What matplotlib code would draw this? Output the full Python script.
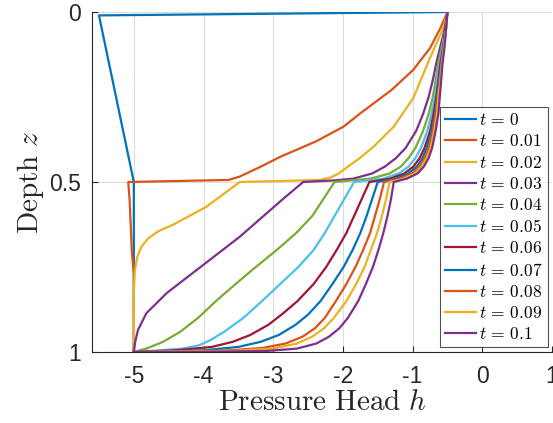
import numpy as np
import matplotlib
matplotlib.use("Agg")
import matplotlib.pyplot as plt

plt.rcParams['mathtext.fontset'] = 'cm'
plt.rcParams['axes.unicode_minus'] = False
plt.rcParams['font.family'] = ['Liberation Sans', 'DejaVu Sans']

# pressure head profiles h(z)
times = [0, 0.01, 0.02, 0.03, 0.04, 0.05, 0.06, 0.07, 0.08, 0.09, 0.1]

z_t00 = [0, 0.01, 0.5, 1.0]
h_t00 = [-0.5, -5.5, -5.0, -5.0]

z_t01 = [0, 0.047, 0.106, 0.17, 0.229, 0.298, 0.337, 0.38, 0.426, 0.455, 0.484, 0.494, 0.5,
         0.553, 0.65, 0.70, 0.77, 1.0]
h_t01 = [-0.5, -0.60, -0.75, -0.99, -1.30, -1.75, -1.99, -2.38, -2.90, -3.18, -3.48, -3.64, -5.08,
         -5.06, -5.04, -5.03, -5.0, -5.0]

z_t02 = [0, 0.047, 0.135, 0.253, 0.337, 0.396, 0.43, 0.455, 0.475, 0.487, 0.494, 0.5,
         0.573, 0.626, 0.645, 0.665, 0.69, 0.72, 0.76, 0.82, 1.0]
h_t02 = [-0.5, -0.56, -0.75, -0.99, -1.27, -1.56, -1.76, -1.93, -2.06, -2.18, -2.33, -3.48,
         -3.96, -4.44, -4.65, -4.79, -4.89, -4.95, -4.985, -5.0, -5.0]

z_up = [0, 0.05, 0.1, 0.15, 0.2, 0.25, 0.3, 0.35, 0.4, 0.43, 0.455, 0.475, 0.49]

z_t03 = z_up + [0.495, 0.5, 0.55, 0.661, 0.759, 0.827, 0.886, 0.935, 0.97, 1.0]
h_t03 = [-0.5, -0.54, -0.60, -0.66, -0.71, -0.77, -0.85, -0.95, -1.10, -1.24, -1.40, -1.58, -1.85,
         -2.10, -2.57, -2.86, -3.48, -4.10, -4.53, -4.82, -4.94, -4.98, -5.0]

z_low = [0.5, 0.55, 0.6, 0.65, 0.7, 0.75, 0.8, 0.85]

z_t04 = z_up + z_low + [0.9, 0.94, 0.97, 0.99, 1.0]
h_t04 = [-0.5, -0.53, -0.58, -0.63, -0.67, -0.71, -0.77, -0.85, -0.96, -1.06, -1.17, -1.33, -1.60,
         -2.12, -2.28, -2.44, -2.67, -2.95, -3.25, -3.54, -3.82, -4.08, -4.33, -4.58, -4.82, -5.0]

z_t05 = z_up + z_low + [0.9, 0.94, 0.965, 0.98, 0.99, 0.996, 1.0]
h_t05 = [-0.5, -0.53, -0.57, -0.61, -0.65, -0.68, -0.73, -0.79, -0.88, -0.96, -1.06, -1.20, -1.42,
         -1.84, -1.98, -2.12, -2.26, -2.42, -2.64, -2.90, -3.16, -3.43, -3.70, -3.90, -4.06, -4.30,
         -4.70, -5.0]

z_t06 = z_up + z_low + [0.89, 0.92, 0.95, 0.97, 0.985, 0.995, 1.0]
h_t06 = [-0.5, -0.53, -0.56, -0.60, -0.63, -0.66, -0.70, -0.75, -0.83, -0.90, -0.99, -1.12, -1.32,
         -1.62, -1.73, -1.84, -1.95, -2.09, -2.24, -2.42, -2.65, -2.88, -3.07, -3.33, -3.58, -3.88,
         -4.40, -5.0]

z_t07 = z_up + z_low + [0.89, 0.92, 0.95, 0.97, 0.985, 0.995, 1.0]
h_t07 = [-0.5, -0.53, -0.56, -0.59, -0.62, -0.65, -0.68, -0.73, -0.80, -0.86, -0.94, -1.06, -1.24,
         -1.50, -1.58, -1.66, -1.75, -1.86, -1.99, -2.15, -2.32, -2.50, -2.68, -2.92, -3.18, -3.50,
         -4.00, -5.0]

z_t08 = z_up + z_low + [0.9, 0.93, 0.955, 0.975, 0.988, 0.996, 1.0]
h_t08 = [-0.5, -0.52, -0.55, -0.58, -0.61, -0.64, -0.67, -0.71, -0.77, -0.83, -0.90, -1.01, -1.18,
         -1.41, -1.47, -1.54, -1.61, -1.71, -1.82, -1.95, -2.10, -2.26, -2.40, -2.58, -2.82, -3.15,
         -3.70, -5.0]

z_t09 = z_up + z_low + [0.9, 0.93, 0.955, 0.975, 0.99, 0.997, 1.0]
h_t09 = [-0.5, -0.52, -0.55, -0.58, -0.60, -0.63, -0.65, -0.69, -0.74, -0.80, -0.87, -0.97, -1.13,
         -1.33, -1.38, -1.44, -1.51, -1.60, -1.69, -1.81, -1.95, -2.13, -2.27, -2.44, -2.66, -3.00,
         -3.60, -5.0]

z_t10 = z_up + z_low + [0.9, 0.93, 0.955, 0.975, 0.99, 0.997, 0.9995, 1.0]
h_t10 = [-0.5, -0.52, -0.54, -0.57, -0.59, -0.61, -0.63, -0.67, -0.72, -0.77, -0.84, -0.93, -1.08,
         -1.27, -1.31, -1.36, -1.42, -1.49, -1.57, -1.67, -1.78, -1.93, -2.05, -2.20, -2.38, -2.66,
         -3.10, -4.00, -5.0]

profiles = [(h_t00, z_t00), (h_t01, z_t01), (h_t02, z_t02), (h_t03, z_t03), (h_t04, z_t04),
            (h_t05, z_t05), (h_t06, z_t06), (h_t07, z_t07), (h_t08, z_t08), (h_t09, z_t09),
            (h_t10, z_t10)]

colors = ['#0072BD', '#D95319', '#EDB120', '#7E2F8E', '#77AC30', '#4DBEEE', '#A2142F',
          '#0072BD', '#D95319', '#EDB120', '#7E2F8E']

fig = plt.figure(figsize=(5.53, 4.23), dpi=100)
ax = fig.add_axes([92/553, 71/423, 460/553, 340/423])

for (h, z), c, t in zip(profiles, colors, times):
    ax.plot(h, z, color=c, lw=1.6, label=r'$t \,=\, %g$' % t)

ax.set_xlim(-5.6, 1)
ax.set_ylim(1, 0)
ax.set_xticks([-5, -4, -3, -2, -1, 0, 1])
ax.set_yticks([0, 0.5, 1])
ax.set_yticklabels(['0', '0.5', '1'])
ax.grid(True, color='#dcdcdc', lw=0.8)
ax.set_axisbelow(True)
for s in ['top', 'right']:
    ax.spines[s].set_visible(False)
for s in ['left', 'bottom']:
    ax.spines[s].set_color('#262626')
    ax.spines[s].set_linewidth(0.8)
ax.tick_params(direction='in', length=4, width=0.8, colors='#262626', labelsize=16.5)
ax.tick_params(axis='x', pad=9)
ax.tick_params(axis='y', pad=8)

ax.set_xlabel(r'$\mathrm{Pressure\ Head}\ h$', fontsize=21, color='#262626', labelpad=0)
ax.set_ylabel(r'$\mathrm{Depth}\ z$', fontsize=21, color='#262626', labelpad=2)

leg = ax.legend(loc='upper right', bbox_to_anchor=(0.991, 0.7206), fontsize=12.5,
                frameon=True, fancybox=False, edgecolor='#262626', borderaxespad=0,
                handlelength=1.75, handletextpad=0.2, labelspacing=0.3,
                borderpad=0.3)
leg.get_frame().set_linewidth(0.8)

fig.savefig('out.png', dpi=100)
